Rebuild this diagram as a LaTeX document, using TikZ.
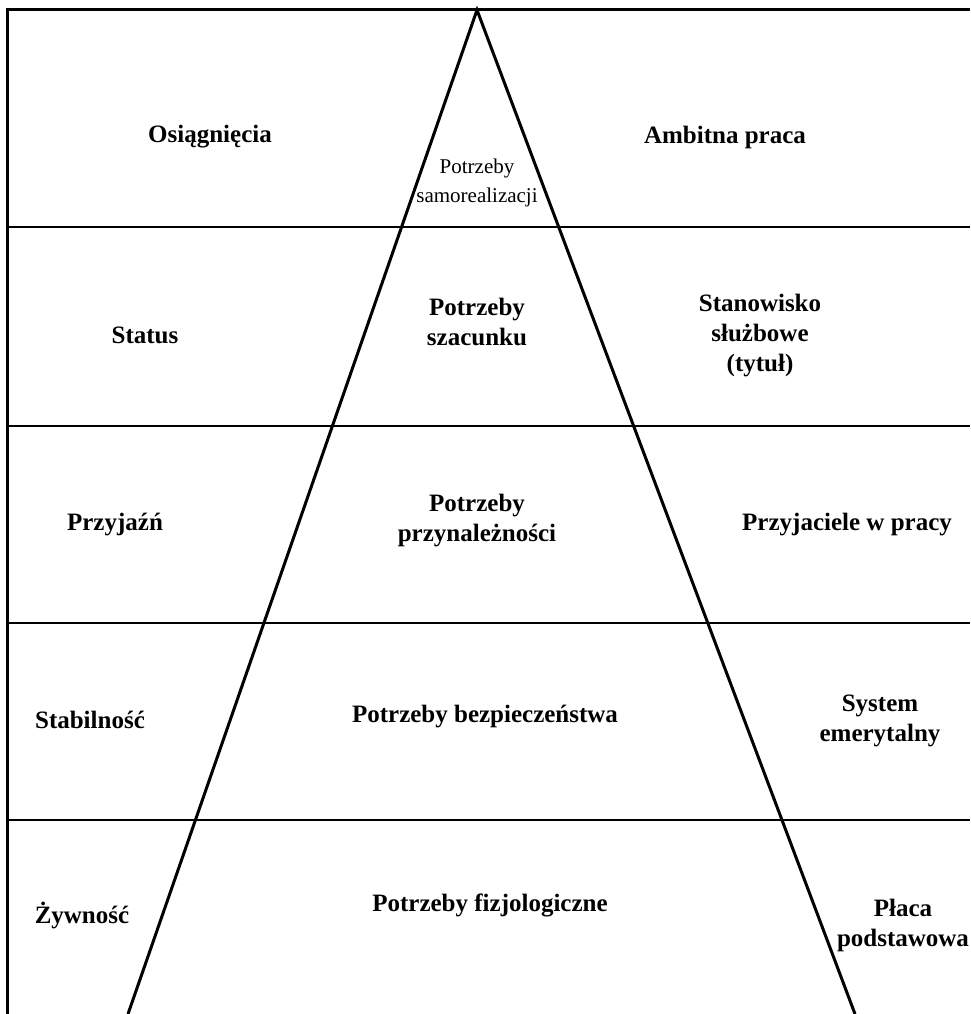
\documentclass[tikz,border=0pt]{standalone}
\usepackage{fontspec}
\setmainfont{Liberation Serif}

\begin{document}
\begin{tikzpicture}[x=1pt, y=-1pt,
    level label/.style={font=\fontsize{25}{30}\selectfont\bfseries, align=center, inner sep=0pt},
    top label/.style={font=\fontsize{21}{29}\selectfont, align=center, inner sep=0pt},
    frame line/.style={line width=2.4pt}]
    % Define picture size
    \def\picWidth{970}
    \def\picHeight{1014}
    \useasboundingbox (0,0) rectangle (\picWidth,\picHeight);

    % Define the frame and the pyramid
    \coordinate (topLeft) at (7,10);
    \coordinate (topRight) at (\picWidth,10);
    \coordinate (bottomLeft) at (7,\picHeight);
    \coordinate (apex) at (477,10);
    \coordinate (baseLeft) at (128,\picHeight);
    \coordinate (baseRight) at (855,\picHeight);

    % Draw frame
    \draw[frame line, line width=3pt] (bottomLeft) -- (topLeft) -- (topRight);

    % Draw level separators
    \foreach \y in {227,426,623,820}
        \draw[frame line] (7,\y) -- (\picWidth,\y);

    % Draw pyramid sides
    \draw[frame line, line width=3pt, line join=miter] (baseLeft) -- (apex) -- (baseRight);

    % Left column
    \node[level label] (achieve) at (210,137) {Osiągnięcia};
    \node[level label] (status) at (145,335) {Status};
    \node[level label] (friend) at (115,525) {Przyjaźń};
    \node[level label] (stable) at (90,720) {Stabilność};
    \node[level label] (food) at (82,915) {Żywność};

    % Pyramid levels
    \node[top label] (selfNeed) at (477,183) {Potrzeby\\samorealizacji};
    \node[level label] (esteemNeed) at (477,322) {Potrzeby\\szacunku};
    \node[level label] (belongNeed) at (477,521) {Potrzeby\\przynależności};
    \node[level label] (safetyNeed) at (485,717) {Potrzeby bezpieczeństwa};
    \node[level label] (bodyNeed) at (490,905) {Potrzeby fizjologiczne};

    % Right column
    \node[level label] (ambition) at (725,137) {Ambitna praca};
    \node[level label] (position) at (760,336) {Stanowisko\\służbowe\\(tytuł)};
    \node[level label] (friends) at (847,525) {Przyjaciele w pracy};
    \node[level label] (pension) at (880,721) {System\\emerytalny};
    \node[level label] (salary) at (903,925) {Płaca\\podstawowa};

\end{tikzpicture}
\end{document}
